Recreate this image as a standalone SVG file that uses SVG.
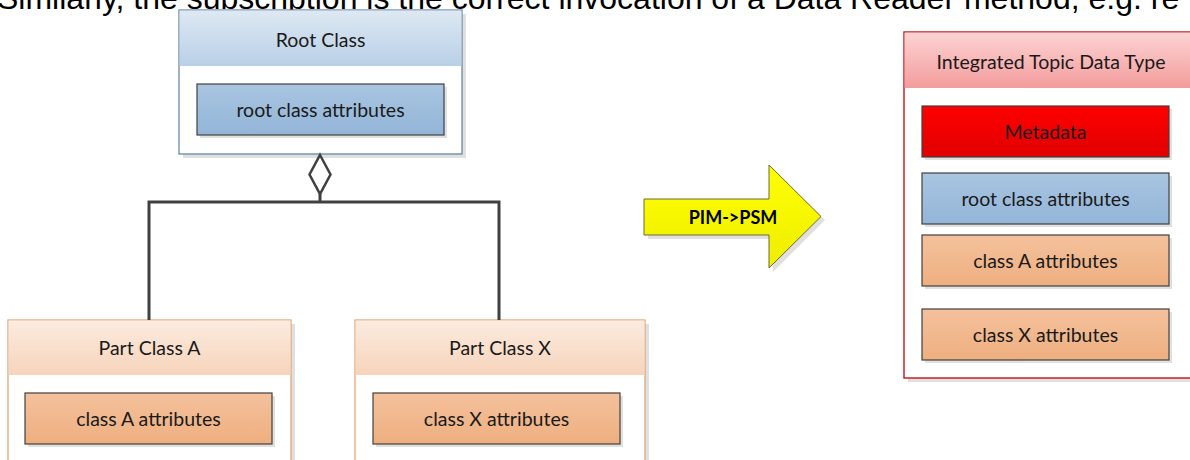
<svg xmlns="http://www.w3.org/2000/svg" width="1190" height="460" viewBox="0 0 1190 460">
<style>
.lbl{font-family:Lato,"Open Sans","Liberation Sans",sans-serif;font-size:19.5px;fill:#1a1a1a;text-anchor:middle;dominant-baseline:central}
.inner{stroke:#404040;stroke-width:1.2}
.shadow{fill:#000;opacity:0.12}
.conn{fill:none;stroke:#404040;stroke-width:3}
</style>
<defs>
<linearGradient id="gBlueH" x1="0" y1="0" x2="0" y2="1"><stop offset="0" stop-color="#dde8f3"/><stop offset="1" stop-color="#b9d0e7"/></linearGradient>
<linearGradient id="gBlueI" x1="0" y1="0" x2="0" y2="1"><stop offset="0" stop-color="#a9c5e1"/><stop offset="1" stop-color="#93b5d8"/></linearGradient>
<linearGradient id="gOrH" x1="0" y1="0" x2="0" y2="1"><stop offset="0" stop-color="#fcebdf"/><stop offset="1" stop-color="#f6d4bb"/></linearGradient>
<linearGradient id="gOrI" x1="0" y1="0" x2="0" y2="1"><stop offset="0" stop-color="#f4c19c"/><stop offset="1" stop-color="#eeaf7f"/></linearGradient>
<linearGradient id="gRedH" x1="0" y1="0" x2="0" y2="1"><stop offset="0" stop-color="#fdd3d3"/><stop offset="1" stop-color="#f39c9c"/></linearGradient>
<linearGradient id="gRedI" x1="0" y1="0" x2="0" y2="1"><stop offset="0" stop-color="#ff0000"/><stop offset="1" stop-color="#e00000"/></linearGradient>
<linearGradient id="gYel" x1="0" y1="0" x2="0" y2="1"><stop offset="0" stop-color="#ffff00"/><stop offset="1" stop-color="#eeee00"/></linearGradient>
</defs>
<rect width="1190" height="460" fill="#ffffff"/>
<text x="-3" y="9" style="font-family:'Liberation Sans',Arial,sans-serif;font-size:32px;fill:#000">Similarly, the subscription is the correct invocation of a Data Reader method, e.g. re</text>

<g id="root-class">
<rect x="183" y="14" width="283" height="144" class="shadow"/>
<rect x="179" y="10" width="283" height="144" fill="#ffffff" stroke="#5f7f9f" stroke-width="1.2"/>
<rect x="179.6" y="10.6" width="281.8" height="55.4" fill="url(#gBlueH)"/>
<text x="320.5" y="39" class="lbl">Root Class</text>
<rect x="200" y="87" width="247" height="51" class="shadow"/>
<rect x="197" y="84" width="247" height="51" fill="url(#gBlueI)" class="inner"/>
<text x="320.5" y="109.5" class="lbl">root class attributes</text>
</g>

<g id="part-class-a">
<rect x="12" y="324" width="283" height="140" class="shadow"/>
<rect x="8" y="320" width="283" height="145" fill="#ffffff" stroke="#e0a070" stroke-width="1.2"/>
<rect x="8.6" y="320.6" width="281.8" height="54.4" fill="url(#gOrH)"/>
<text x="149.5" y="347" class="lbl">Part Class A</text>
<rect x="28" y="396" width="247" height="51" class="shadow"/>
<rect x="25" y="393" width="247" height="51" fill="url(#gOrI)" class="inner"/>
<text x="148.5" y="418.5" class="lbl">class A attributes</text>
</g>

<g id="part-class-x">
<rect x="359" y="324" width="290" height="140" class="shadow"/>
<rect x="355" y="320" width="290" height="145" fill="#ffffff" stroke="#e0a070" stroke-width="1.2"/>
<rect x="355.6" y="320.6" width="288.8" height="54.4" fill="url(#gOrH)"/>
<text x="500" y="347" class="lbl">Part Class X</text>
<rect x="376" y="396" width="247" height="51" class="shadow"/>
<rect x="373" y="393" width="247" height="51" fill="url(#gOrI)" class="inner"/>
<text x="496.5" y="418.5" class="lbl">class X attributes</text>
</g>

<g id="connectors">
<polyline points="149,320 149,202 499,202 499,320" class="conn"/>
<line x1="320" y1="194" x2="320" y2="202" class="conn"/>
<polygon points="320,155 330.5,174.5 320,194 309.5,174.5" fill="#ffffff" stroke="#404040" stroke-width="2.5"/>
</g>

<g id="pim-psm-arrow">
<polygon points="648,203 773,203 773,169 825,220 773,272 773,239 648,239" class="shadow"/>
<polygon points="644,199 769,199 769,165 821,216.5 769,268 769,235 644,235" fill="url(#gYel)" stroke="#6a6a3a" stroke-width="1"/>
<text x="733" y="217" class="lbl" style="font-weight:bold;font-size:18px;fill:#000">PIM-&gt;PSM</text>
</g>

<g id="integrated-topic-data-type">
<rect x="908" y="36" width="290" height="346" class="shadow"/>
<rect x="904" y="32" width="300" height="346" fill="#ffffff" stroke="#c0000a" stroke-width="1.3"/>
<rect x="904.6" y="32.6" width="290" height="55.4" fill="url(#gRedH)"/>
<text x="1051" y="61" class="lbl">Integrated Topic Data Type</text>
<rect x="925" y="109" width="247" height="51" class="shadow"/>
<rect x="922" y="106" width="247" height="51" fill="url(#gRedI)" class="inner"/>
<text x="1045.5" y="131.5" class="lbl">Metadata</text>
<rect x="925" y="176" width="247" height="51" class="shadow"/>
<rect x="922" y="173" width="247" height="51" fill="url(#gBlueI)" class="inner"/>
<text x="1045.5" y="198.5" class="lbl">root class attributes</text>
<rect x="925" y="238" width="247" height="51" class="shadow"/>
<rect x="922" y="235" width="247" height="51" fill="url(#gOrI)" class="inner"/>
<text x="1045.5" y="260.5" class="lbl">class A attributes</text>
<rect x="925" y="312" width="247" height="51" class="shadow"/>
<rect x="922" y="309" width="247" height="51" fill="url(#gOrI)" class="inner"/>
<text x="1045.5" y="334.5" class="lbl">class X attributes</text>
</g>
</svg>
